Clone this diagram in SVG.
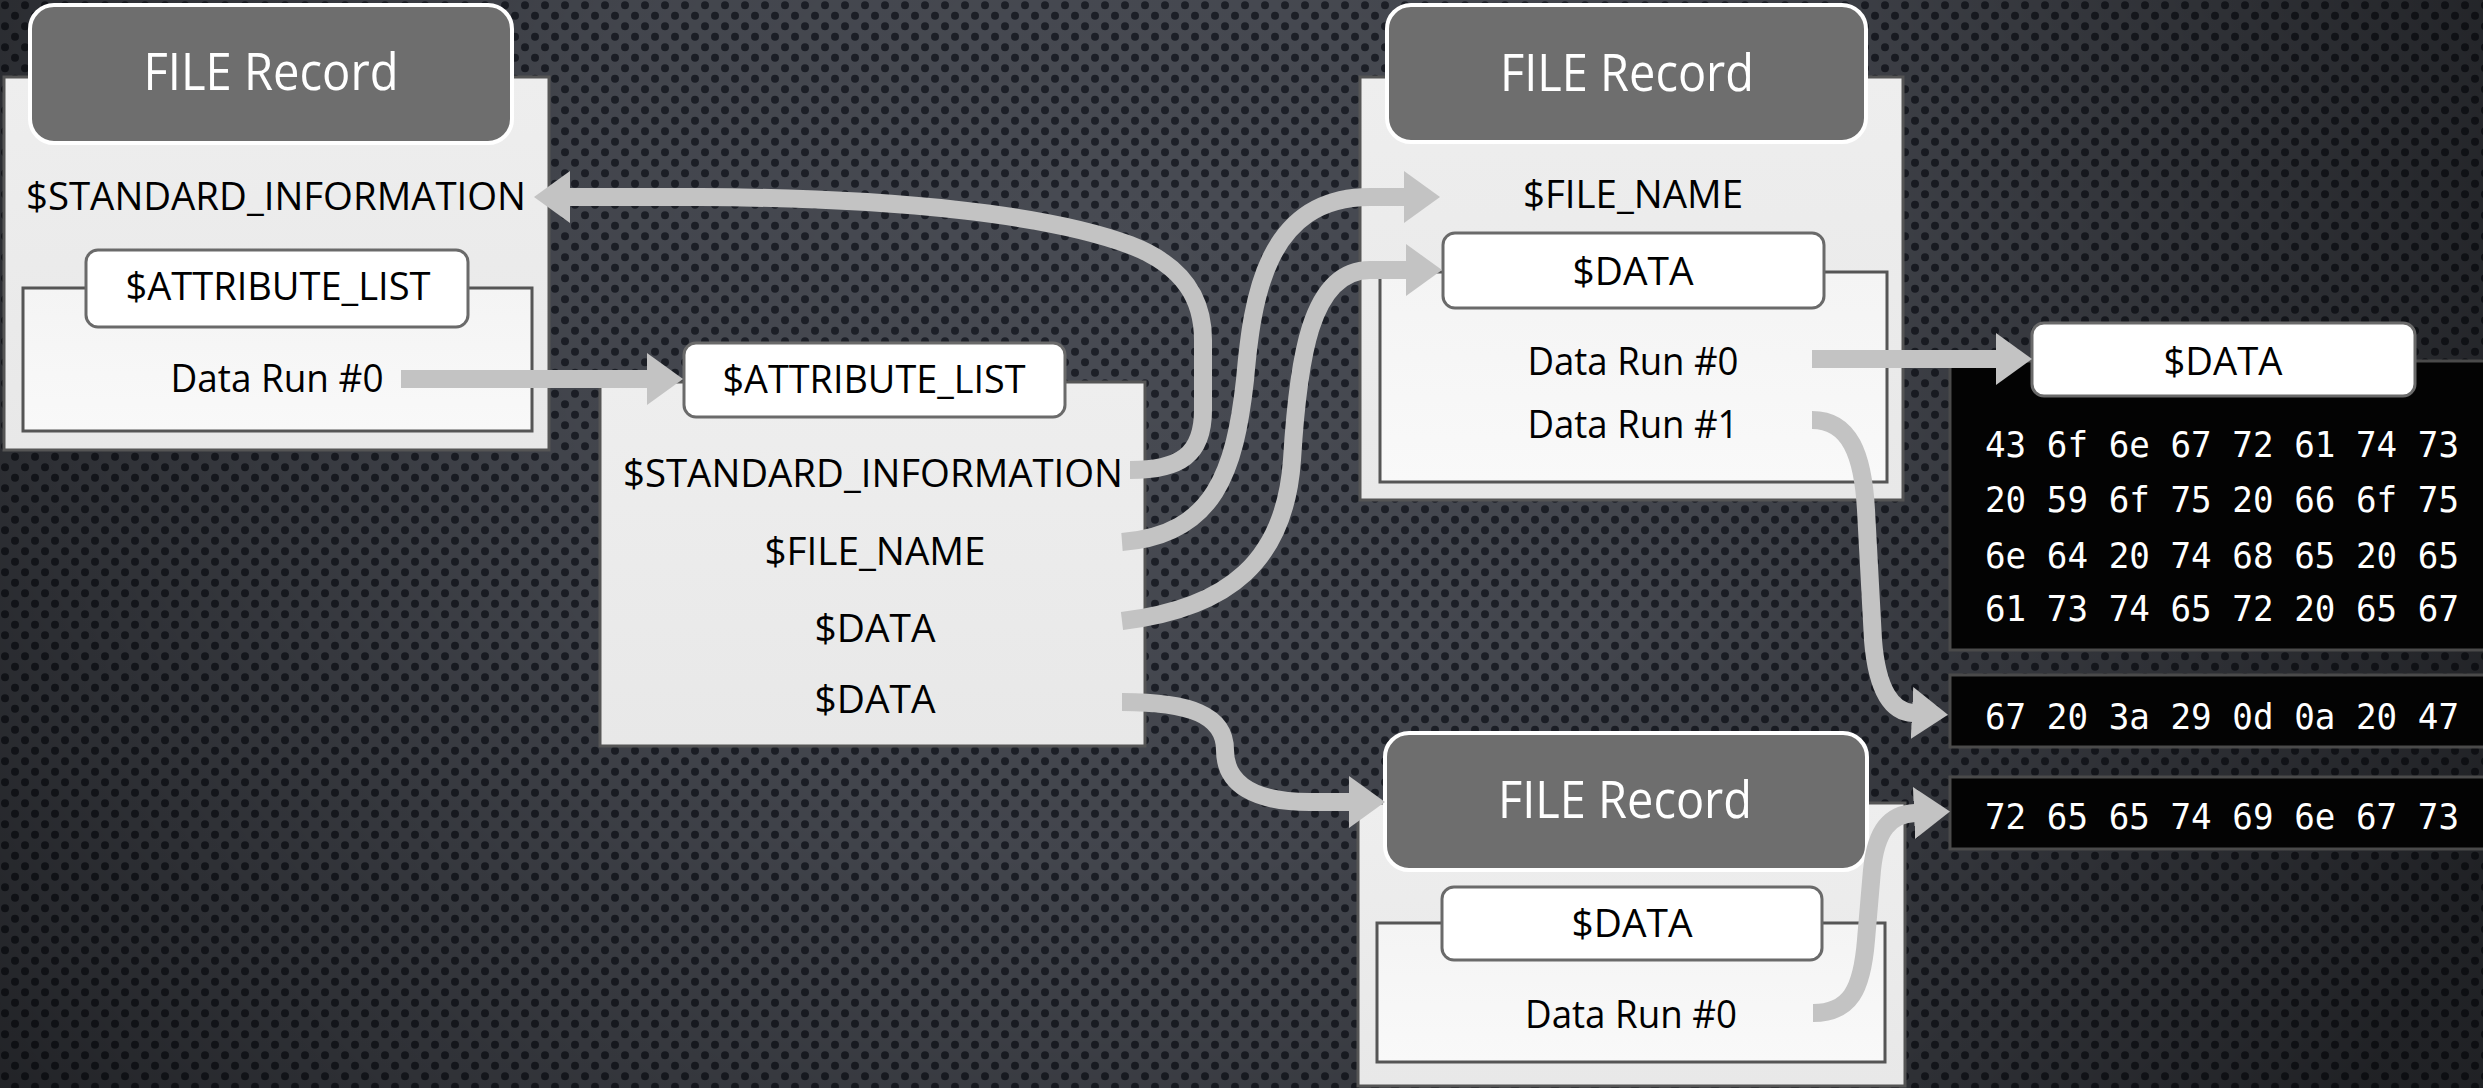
<svg xmlns="http://www.w3.org/2000/svg" width="2483" height="1088" viewBox="0 0 2483 1088">
<style>
.panel{fill:url(#panelGrad);stroke:#555;stroke-width:3}
.inner{fill:url(#innerGrad);stroke:#555;stroke-width:3}
.hdr{fill:#6e6e6e;stroke:#fff;stroke-width:4}
.pill{fill:#fff;stroke:#6a6a6a;stroke-width:3}
.t{font-family:"Open Sans","Noto Sans",sans-serif;font-size:38px;fill:#000;text-anchor:middle}
.h{font-family:"Open Sans","Noto Sans",sans-serif;font-size:51px;fill:#fff;text-anchor:middle}
.hex{font-family:"DejaVu Sans Mono","Liberation Mono",monospace;font-size:35px;fill:#fff}
.hexbox{fill:#030303;stroke:#4a4a4a;stroke-width:3}
.conn{fill:none;stroke:#c3c3c3;stroke-width:18;marker-end:url(#arr)}
</style>
<defs>
<pattern id="dots" width="20" height="21" patternUnits="userSpaceOnUse">
<circle cx="5" cy="5.25" r="4" fill="#1d2028"/>
<circle cx="15" cy="15.75" r="4" fill="#1d2028"/>
</pattern>
<radialGradient id="vig" cx="1150" cy="280" r="1450" gradientUnits="userSpaceOnUse">
<stop offset="0" stop-color="#000" stop-opacity="0"/>
<stop offset="0.4" stop-color="#000" stop-opacity="0.08"/>
<stop offset="1" stop-color="#000" stop-opacity="0.55"/>
</radialGradient>
<linearGradient id="panelGrad" x1="0" y1="0" x2="0" y2="1">
<stop offset="0" stop-color="#eeeeee"/>
<stop offset="1" stop-color="#e8e8e8"/>
</linearGradient>
<linearGradient id="innerGrad" x1="0" y1="0" x2="0" y2="1">
<stop offset="0" stop-color="#f4f4f4"/>
<stop offset="1" stop-color="#f9f9f9"/>
</linearGradient>
<marker id="arr" markerUnits="userSpaceOnUse" markerWidth="40" markerHeight="56" refX="1" refY="27" orient="auto" viewBox="0 0 40 56">
<path d="M0,1 L36,27 L0,53 Z" fill="#c3c3c3"/>
</marker>
</defs>

<g id="background">
<rect x="0" y="0" width="2483" height="1088" fill="#484b53"/>
<rect x="0" y="0" width="2483" height="1088" fill="url(#dots)"/>
<rect x="0" y="0" width="2483" height="1088" fill="url(#vig)"/>
</g>

<g id="file-record-1">
<rect class="panel" x="4" y="77" width="545" height="373"/>
<rect class="hdr" x="30" y="5" width="482" height="138" rx="24"/>
<text class="h" x="271" y="90" textLength="255" lengthAdjust="spacingAndGlyphs">FILE Record</text>
<text class="t" x="276" y="210" textLength="500" lengthAdjust="spacingAndGlyphs">$STANDARD_INFORMATION</text>
<rect class="inner" x="23" y="288" width="509" height="143"/>
<rect class="pill" x="86" y="250" width="382" height="77" rx="12"/>
<text class="t" x="278" y="300" textLength="305" lengthAdjust="spacingAndGlyphs">$ATTRIBUTE_LIST</text>
<text class="t" x="277" y="392" textLength="213" lengthAdjust="spacingAndGlyphs">Data Run #0</text>
</g>

<g id="attribute-list">
<rect class="panel" x="600" y="382" width="545" height="364"/>
<rect class="pill" x="684" y="343" width="381" height="74" rx="12"/>
<text class="t" x="874" y="393" textLength="303" lengthAdjust="spacingAndGlyphs">$ATTRIBUTE_LIST</text>
<text class="t" x="873" y="487" textLength="500" lengthAdjust="spacingAndGlyphs">$STANDARD_INFORMATION</text>
<text class="t" x="875" y="565" textLength="221" lengthAdjust="spacingAndGlyphs">$FILE_NAME</text>
<text class="t" x="875" y="642" textLength="121" lengthAdjust="spacingAndGlyphs">$DATA</text>
<text class="t" x="875" y="713" textLength="121" lengthAdjust="spacingAndGlyphs">$DATA</text>
</g>

<g id="file-record-2">
<rect class="panel" x="1360" y="77" width="543" height="423"/>
<rect class="hdr" x="1387" y="5" width="479" height="137" rx="24"/>
<text class="h" x="1627" y="91" textLength="254" lengthAdjust="spacingAndGlyphs">FILE Record</text>
<text class="t" x="1633" y="208" textLength="220" lengthAdjust="spacingAndGlyphs">$FILE_NAME</text>
<rect class="inner" x="1380" y="272" width="507" height="210"/>
<rect class="pill" x="1443" y="233" width="381" height="75" rx="12"/>
<text class="t" x="1633" y="285" textLength="121" lengthAdjust="spacingAndGlyphs">$DATA</text>
<text class="t" x="1633" y="375" textLength="211" lengthAdjust="spacingAndGlyphs">Data Run #0</text>
<text class="t" x="1633" y="438" textLength="211" lengthAdjust="spacingAndGlyphs">Data Run #1</text>
</g>

<g id="file-record-3">
<rect class="panel" x="1358" y="803" width="547" height="283"/>
<rect class="hdr" x="1385" y="733" width="482" height="137" rx="24"/>
<text class="h" x="1625" y="818" textLength="254" lengthAdjust="spacingAndGlyphs">FILE Record</text>
<rect class="inner" x="1377" y="923" width="508" height="139"/>
<rect class="pill" x="1442" y="887" width="380" height="73" rx="12"/>
<text class="t" x="1632" y="937" textLength="121" lengthAdjust="spacingAndGlyphs">$DATA</text>
<text class="t" x="1631" y="1028" textLength="212" lengthAdjust="spacingAndGlyphs">Data Run #0</text>
</g>

<g id="data-content">
<rect class="hexbox" x="1950" y="361" width="560" height="289"/>
<rect class="pill" x="2032" y="323" width="383" height="73" rx="12"/>
<text class="t" x="2223" y="375" textLength="119" lengthAdjust="spacingAndGlyphs">$DATA</text>
<text class="hex" x="1985" y="457" textLength="474" lengthAdjust="spacingAndGlyphs">43 6f 6e 67 72 61 74 73</text>
<text class="hex" x="1985" y="512" textLength="474" lengthAdjust="spacingAndGlyphs">20 59 6f 75 20 66 6f 75</text>
<text class="hex" x="1985" y="568" textLength="474" lengthAdjust="spacingAndGlyphs">6e 64 20 74 68 65 20 65</text>
<text class="hex" x="1985" y="621" textLength="474" lengthAdjust="spacingAndGlyphs">61 73 74 65 72 20 65 67</text>
</g>

<g id="data-run-2">
<rect class="hexbox" x="1950" y="675" width="560" height="72"/>
<text class="hex" x="1985" y="729" textLength="474" lengthAdjust="spacingAndGlyphs">67 20 3a 29 0d 0a 20 47</text>
</g>

<g id="data-run-3">
<rect class="hexbox" x="1950" y="777" width="560" height="72"/>
<text class="hex" x="1985" y="829" textLength="474" lengthAdjust="spacingAndGlyphs">72 65 65 74 69 6e 67 73</text>
</g>

<g id="connectors">
<path class="conn" d="M401,379 L648,379"/>
<path class="conn" d="M1130,470 C1180,470 1203,455 1203,410 L1203,340 C1203,300 1185,266 1130,245 C1050,215 900,198 700,197 L569,197"/>
<path class="conn" d="M1122,542 C1215,535 1235,470 1245,380 C1252,300 1265,197 1370,197 L1405,197"/>
<path class="conn" d="M1122,621 C1230,608 1285,560 1292,460 C1298,360 1310,270 1370,270 L1407,270"/>
<path class="conn" d="M1122,702 C1190,702 1225,715 1225,750 C1225,785 1255,802 1310,802 L1350,802"/>
<path class="conn" d="M1812,359 L1997,359"/>
<path class="conn" d="M1812,420 C1850,420 1863,455 1866,510 L1873,640 C1877,690 1892,712 1913,713"/>
<path class="conn" d="M1813,1013 C1850,1013 1862,990 1866,940 L1872,870 C1876,830 1890,814 1915,813"/>
</g>
</svg>
